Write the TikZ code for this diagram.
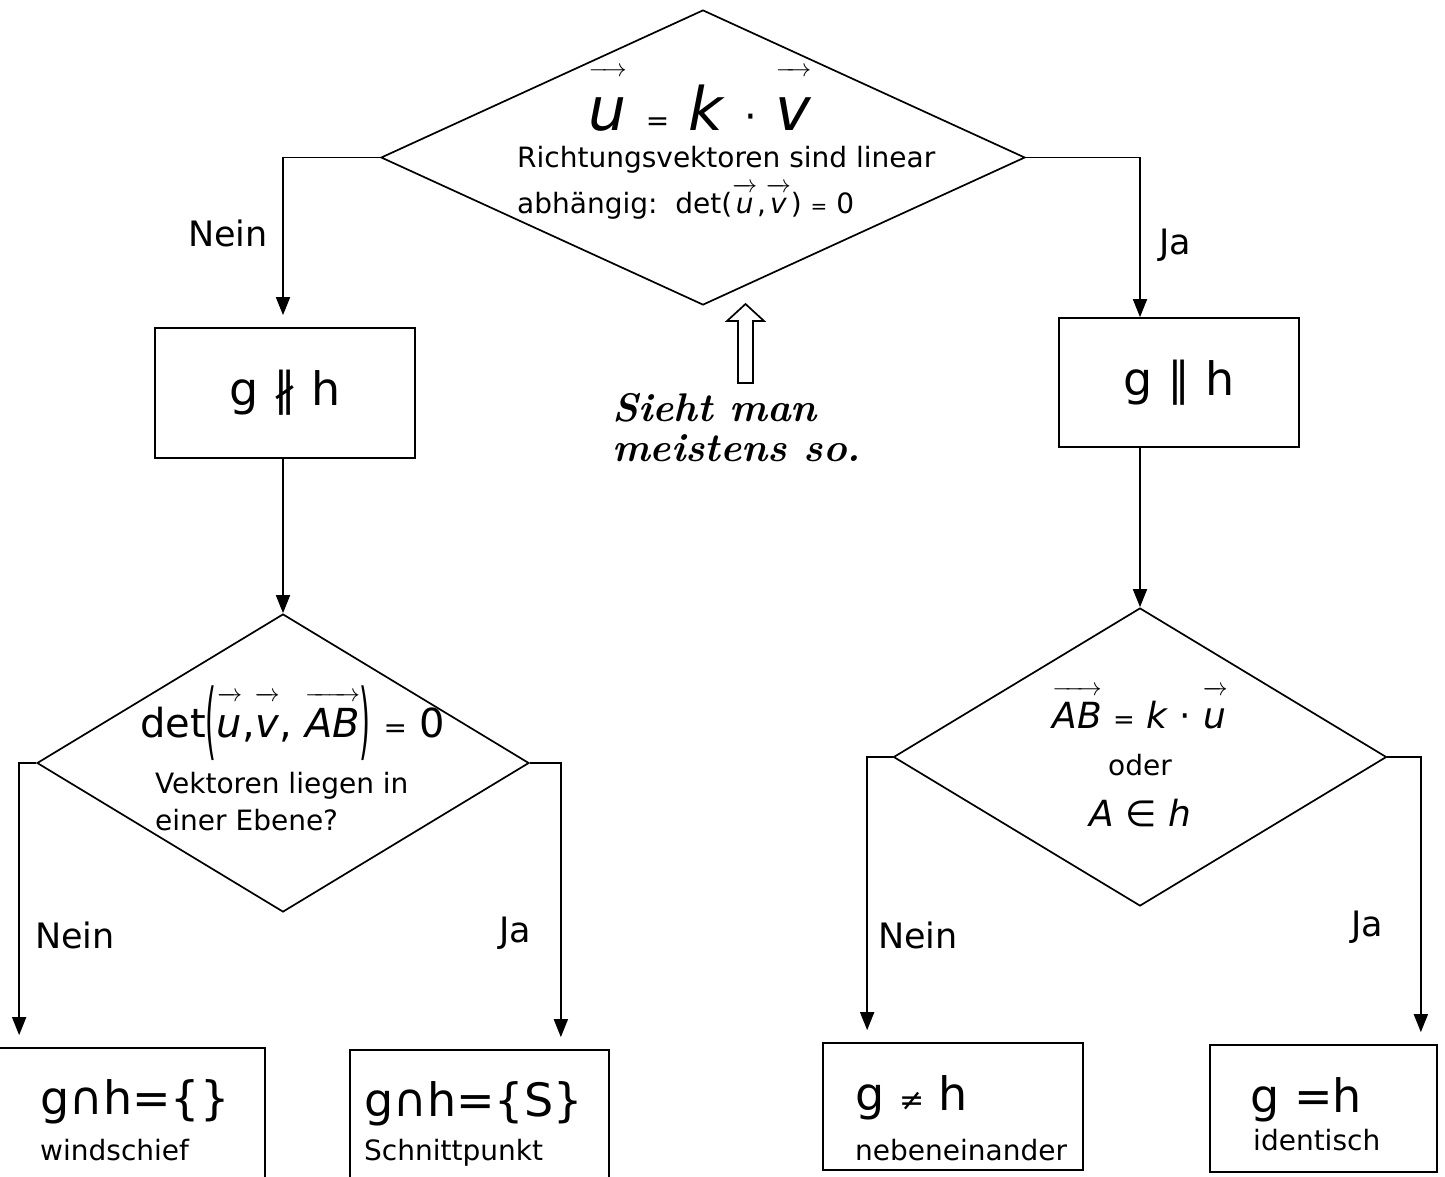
\documentclass[tikz,border=0pt]{standalone}
\usepackage{amsmath}
\usepackage{graphicx}
\usepackage{fontspec}
\setsansfont{DejaVu Sans}
\usetikzlibrary{shapes.geometric,arrows.meta}
\newcommand{\vek}[2][0.9em]{\ensuremath{\overrightarrow{\mbox{\itshape\rule{0pt}{#1}#2}}}}
\newcommand{\gr}[1]{\fontsize{#1}{#1}\selectfont}
\begin{document}
\begin{tikzpicture}[x=1pt,y=-1pt,
    linie/.style={line width=1.7pt},
    pfeil/.style={line width=1.7pt,-{Triangle[width=14pt,length=18pt]}},
    luecke/.style={pfeil,shorten >=12pt},
    raute/.style={draw,diamond,line width=1.7pt,inner sep=0pt},
    kasten/.style={draw,rectangle,line width=1.7pt,inner sep=0pt},
    txt/.style={font=\sffamily\gr{28},inner sep=0pt},
    gross/.style={font=\sffamily\gr{46},inner sep=0pt},
    antwort/.style={font=\sffamily\gr{35},inner sep=0pt}]
            \useasboundingbox (0,0) rectangle (1445,1176);

            \path (703,157.5) node (oben) [raute,minimum width=644pt,minimum height=295pt] {};
            \path (700,130) node (uv) [anchor=base,font=\sffamily\gr{60},inner sep=0pt]
                {\vek{u} {\gr{28}=} \textit{k} {\gr{40}·} \vek{v}};
            \path (517,167) node (richtung) [txt,anchor=base west] {Richtungsvektoren sind linear};
            \path (517,213) node (abh) [txt,anchor=base west]
                {abhängig:\ \ det(\vek[0.72em]{u},\vek[0.72em]{v}) {\gr{20}=} 0};

            \path (285,393) node (nparallel) [kasten,gross,minimum width=260pt,minimum height=130pt] {g ∦ h};
            \path (1179,382.5) node (parallel) [kasten,gross,minimum width=240pt,minimum height=129pt] {g ∥ h};

            \path (283,763) node (links) [raute,minimum width=492pt,minimum height=298pt] {};
            \path (140,737) node (detl) [anchor=base west,font=\sffamily\gr{40},inner sep=0pt]
                {det\raisebox{-12pt}{\scalebox{0.7}[2.1]{(}}\vek{u},\vek{v}, \vek{AB}\raisebox{-12pt}{\scalebox{0.7}[2.1]{)}} {\gr{28}=} 0};
            \path (155,793) node (ebene1) [txt,anchor=base west] {Vektoren liegen in};
            \path (155,830) node (ebene2) [txt,anchor=base west] {einer Ebene?};

            \path (1140,757) node (rechts) [raute,minimum width=493pt,minimum height=298pt] {};
            \path (1140,728) node (abk) [anchor=base,font=\sffamily\gr{36},inner sep=0pt]
                {\vek{AB} {\gr{26}=} \textit{k} · \vek{u}};
            \path (1140,775) node (oder) [txt,anchor=base] {oder};
            \path (1140,826) node (ainh) [anchor=base,font=\sffamily\gr{36},inner sep=0pt] {\textit{A} ∈ \textit{h}};

            \path (131.5,1124) node (leer) [kasten,minimum width=267pt,minimum height=152pt] {};
            \path (479.5,1125) node (schnitt) [kasten,minimum width=259pt,minimum height=150pt] {};
            \path (953,1106.5) node (neben) [kasten,minimum width=260pt,minimum height=127pt] {};
            \path (1323.5,1108.5) node (ident) [kasten,minimum width=227pt,minimum height=127pt] {};

            \path (40,1114) node (leer1) [gross,anchor=base west] {g∩h=\{\}};
            \path (40,1160) node (leer2) [txt,anchor=base west] {windschief};
            \path (364,1116) node (schnitt1) [gross,anchor=base west] {g∩h=\{S\}};
            \path (364,1160) node (schnitt2) [txt,anchor=base west] {Schnittpunkt};
            \path (855,1110) node (neben1) [gross,anchor=base west] {g {\gr{30}≠} h};
            \path (855,1160) node (neben2) [txt,anchor=base west] {nebeneinander};
            \path (1250,1112) node (ident1) [gross,anchor=base west] {g =h};
            \path (1253,1150) node (ident2) [txt,anchor=base west] {identisch};

            \path (228,233) node (nein1) [antwort] {Nein};
            \path (1175,245) node (ja1) [antwort] {Ja};
            \path (75,935) node (nein2) [antwort] {Nein};
            \path (515,933) node (ja2) [antwort] {Ja};
            \path (918,935) node (nein3) [antwort] {Nein};
            \path (1367,927) node (ja3) [antwort] {Ja};

            \draw [luecke] (oben.west) -| ([xshift=-2pt]nparallel.north);
            \draw [pfeil] (oben.east) -| ([xshift=-39pt]parallel.north);
            \draw [pfeil] ([xshift=-2pt]nparallel.south) -- (links.north);
            \draw [pfeil] ([xshift=-39pt]parallel.south) -- (rechts.north);
            \draw [luecke] (links.west) -| ([xshift=22pt]leer.north west);
            \draw [luecke] (links.east) -| ([xshift=-49pt]schnitt.north east);
            \draw [luecke] (rechts.west) -| ([xshift=45pt]neben.north west);
            \draw [luecke] (rechts.east) -| ([xshift=-17pt]ident.north east);

            \draw [linie] (738,383) -- (738,321) -- (727,321) -- (745.5,304)
                -- (764,321) -- (753,321) -- (753,383) -- cycle;
            \path (612,428) node (hinweis) [anchor=west,align=left,inner sep=0pt,
                font=\rmfamily\bfseries\itshape\gr{40}] {Sieht man\\meistens so.};
        \end{tikzpicture}
\end{document}
